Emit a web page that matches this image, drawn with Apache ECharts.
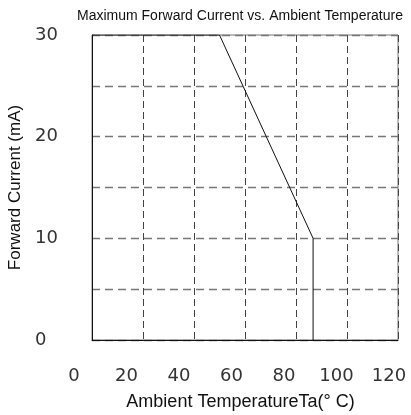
<!DOCTYPE html>
<html>
<head>
<meta charset="utf-8">
<script src="https://cdn.jsdelivr.net/npm/echarts@6/dist/echarts.min.js"></script>
<style>html,body{margin:0;padding:0;background:#fff;}#c{width:411px;height:415px;}</style>
</head>
<body>
<div id="c"></div>
<script>
// Data
var tempC = [0, 50, 86.7, 86.7];
var currentMA = [30, 30, 10, 0];
var xTickLabels = [0, 20, 40, 60, 80, 100, 120];
var yTickLabels = [0, 10, 20, 30];
var titleText = 'Maximum Forward Current vs. Ambient Temperature';
var xName = 'Ambient TemperatureTa(\u00b0 C)';
var yName = 'Forward Current (mA)';

var points = tempC.map(function (t, i) { return [t, currentMA[i]]; });
var labelFont = { fontFamily: 'DejaVu Sans', fontSize: 18, color: '#333' };

var chart = echarts.init(document.getElementById('c'), null, { renderer: 'canvas' });
chart.setOption({
  animation: false,
  backgroundColor: '#fff',
  title: {
    text: titleText,
    left: 72, top: 4,
    textStyle: { fontFamily: 'Liberation Sans', fontSize: 14, fontWeight: 'normal', color: '#111' }
  },
  grid: [
    { left: 92, right: 13, top: 35, bottom: 75, show: true, borderColor: '#777', borderWidth: 1, containLabel: false, outerBoundsMode: 'none' },
    { left: 74, right: 22, top: 35, bottom: 75, show: false, containLabel: false, outerBoundsMode: 'none' }
  ],
  xAxis: [{
    gridIndex: 0, type: 'value', min: 0, max: 120, interval: 20,
    axisLine: { show: true, lineStyle: { color: '#111', width: 1 } },
    axisTick: { show: false },
    axisLabel: { show: false },
    splitLine: { show: true, lineStyle: { color: '#444', type: [7, 4], width: 1 } }
  }, {
    gridIndex: 1, type: 'value', min: 0, max: 120, interval: 20, position: 'bottom',
    axisLine: { show: false }, axisTick: { show: false }, splitLine: { show: false },
    axisLabel: Object.assign({ show: true, margin: 27 }, labelFont),
    name: xName, nameLocation: 'middle', nameGap: 53,
    nameTextStyle: { fontFamily: 'Liberation Sans', fontSize: 18, color: '#111', padding: [0, 0, 0, 18] }
  }],
  yAxis: [{
    gridIndex: 0, type: 'value', min: 0, max: 30, interval: 5,
    axisLine: { show: true, lineStyle: { color: '#111', width: 1 } },
    axisTick: { show: false },
    axisLabel: Object.assign({ show: true, align: 'left', margin: 57, customValues: yTickLabels, padding: [6, 0, 0, 0] }, labelFont),
    splitLine: { show: true, lineStyle: { color: '#777', type: [8, 5], width: 1.3 } },
    name: yName, nameLocation: 'middle', nameGap: 67, nameRotate: 90,
    nameTextStyle: { fontFamily: 'Liberation Sans', fontSize: 17, color: '#111' }
  }, {
    gridIndex: 1, type: 'value', min: 0, max: 30, show: false
  }],
  series: [{
    type: 'line', data: points, xAxisIndex: 0, yAxisIndex: 0,
    showSymbol: false, symbol: 'none',
    lineStyle: { color: '#111', width: 1 }
  }]
});
</script>
</body>
</html>
